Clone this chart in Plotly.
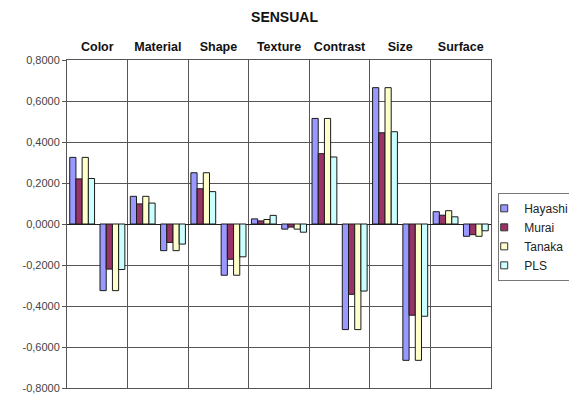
import plotly.graph_objects as go

# Attribute categories; each one has a positive and a negative level
categories = ["Color", "Material", "Shape", "Texture", "Contrast", "Size", "Surface"]

# Values per level: (positive, negative) for each category in order
hayashi = [0.325, -0.325, 0.135, -0.130, 0.250, -0.250, 0.025, -0.025,
           0.515, -0.515, 0.665, -0.665, 0.060, -0.060]
murai = [0.220, -0.220, 0.098, -0.090, 0.172, -0.172, 0.015, -0.015,
         0.343, -0.343, 0.445, -0.445, 0.043, -0.052]
tanaka = [0.325, -0.325, 0.135, -0.130, 0.250, -0.250, 0.022, -0.025,
          0.515, -0.515, 0.665, -0.665, 0.065, -0.060]
pls = [0.222, -0.222, 0.102, -0.098, 0.158, -0.160, 0.042, -0.040,
       0.327, -0.327, 0.450, -0.450, 0.035, -0.033]

series_names = ["Hayashi", "Murai", "Tanaka", "PLS"]
series_values = [hayashi, murai, tanaka, pls]
series_colors = ["#9999FF", "#993366", "#FFFFCC", "#CCFFFF"]

y_ticks = [0.8, 0.6, 0.4, 0.2, 0.0, -0.2, -0.4, -0.6, -0.8]
y_tick_text = ["0,8000", "0,6000", "0,4000", "0,2000", "0,0000",
               "-0,2000", "-0,4000", "-0,6000", "-0,8000"]

slots = list(range(2 * len(categories)))
cat_centers = [2 * i + 0.5 for i in range(len(categories))]

fig = go.Figure()
for name, vals, col in zip(series_names, series_values, series_colors):
    fig.add_trace(go.Bar(
        x=slots, y=vals, name=name, legendgroup=name, showlegend=False,
        marker=dict(color=col, line=dict(color="#1a1a1a", width=1)),
    ))
# Legend keys: small outlined squares in the series colours
for name, col in zip(series_names, series_colors):
    fig.add_trace(go.Scatter(
        x=[None], y=[None], mode="markers", name=name, legendgroup=name,
        marker=dict(symbol="square", size=7, color=col,
                    line=dict(color="#333333", width=1)),
    ))

grid_col = "#555555"
fig.update_layout(
    width=569, height=399,
    margin=dict(l=67, r=78, t=60, b=11, autoexpand=False),
    paper_bgcolor="white", plot_bgcolor="white",
    barmode="group", bargap=0.18, bargroupgap=0.0,
    font=dict(family="Liberation Sans, Arial, sans-serif", size=10, color="#222222"),
    title=dict(text="<b>SENSUAL</b>", x=0.5, xanchor="center", y=0.97, yanchor="top",
               font=dict(size=14, color="#111111")),
    showlegend=True,
    legend=dict(x=1.017, xanchor="left", y=0.595, yanchor="top",
                bordercolor="#777777", borderwidth=1, bgcolor="white",
                indentation=-15, itemwidth=30, tracegroupgap=0,
                font=dict(size=12, color="#222222")),
    xaxis=dict(
        range=[-0.5, len(slots) - 0.5], side="top",
        tickvals=cat_centers, ticktext=["<b>%s</b>" % c for c in categories],
        tickfont=dict(size=12.5, color="#111111"), ticks="", ticklen=0,
        ticklabelstandoff=3,
        showgrid=False, zeroline=False,
        showline=True, linecolor=grid_col, linewidth=1, mirror=True,
        minor=dict(tick0=-0.5, dtick=2, showgrid=True, gridcolor=grid_col,
                   gridwidth=1, ticks=""),
    ),
    yaxis=dict(
        range=[-0.8, 0.8], tickvals=y_ticks, ticktext=y_tick_text,
        showgrid=True, gridcolor=grid_col, gridwidth=1,
        zeroline=True, zerolinecolor="#222222", zerolinewidth=1,
        showline=True, linecolor=grid_col, linewidth=1, mirror=True,
        ticks="outside", ticklen=4, tickcolor=grid_col,
        tickfont=dict(size=11, color="#444444"),
    ),
)

fig.write_html("out.html")
